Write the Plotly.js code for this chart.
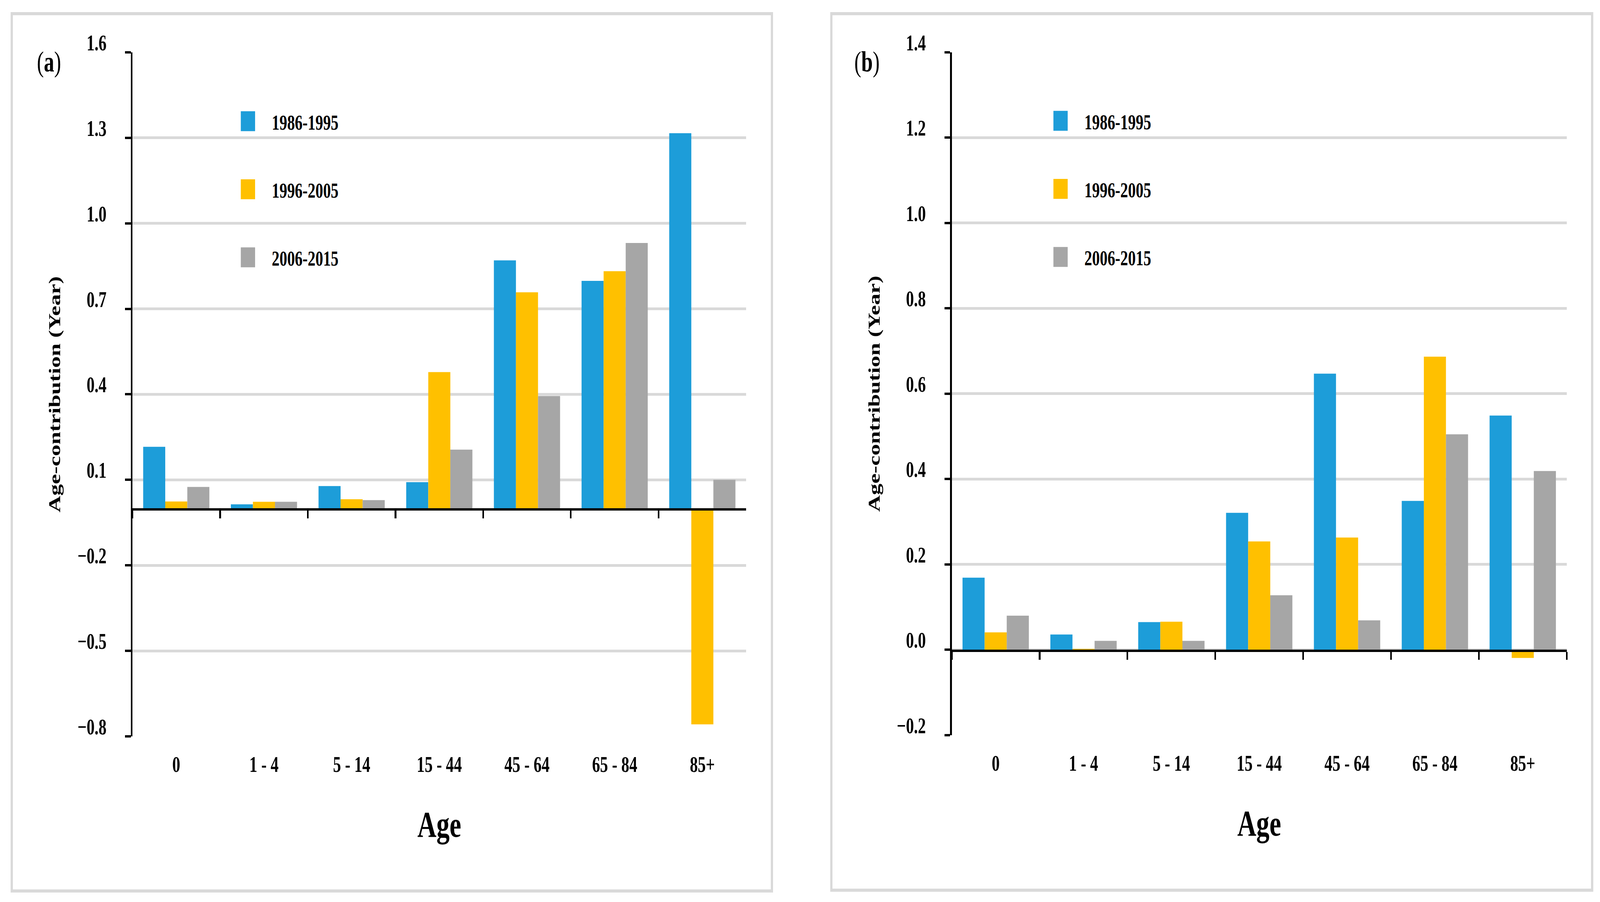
<!DOCTYPE html>
<html>
<head>
<meta charset="utf-8">
<script src="https://cdn.plot.ly/plotly-3.0.1.min.js"></script>
<style>
  html, body { margin: 0; padding: 0; background: #ffffff; overflow: hidden; }
  #wrap { overflow: hidden; position: relative; background: #ffffff; }
  .panel { position: absolute; top: 0; transform-origin: 0 0; }
</style>
</head>
<body>
<div id="wrap"><div id="plotA" class="panel"></div><div id="plotB" class="panel"></div></div>
<script>
// ---------------- data ----------------
const AGE_GROUPS = ['0', '1 - 4', '5 - 14', '15 - 44', '45 - 64', '65 - 84', '85+'];
const PERIODS = ['1986-1995', '1996-2005', '2006-2015'];

// panel (a)
const A_1986_1995 = [0.216, 0.014, 0.078, 0.092, 0.870, 0.798, 1.316];
const A_1996_2005 = [0.024, 0.023, 0.032, 0.478, 0.758, 0.832, -0.758];
const A_2006_2015 = [0.075, 0.023, 0.029, 0.206, 0.394, 0.931, 0.100];

// panel (b)
const B_1986_1995 = [0.169, 0.036, 0.065, 0.321, 0.647, 0.349, 0.549];
const B_1996_2005 = [0.041, 0.002, 0.066, 0.254, 0.263, 0.687, -0.019];
const B_2006_2015 = [0.080, 0.021, 0.021, 0.128, 0.069, 0.505, 0.419];

const Y_RANGE_A = [-0.8, 1.6], Y_STEP_A = 0.3;
const Y_RANGE_B = [-0.2, 1.4], Y_STEP_B = 0.2;

const Y_TITLE = 'Age-contribution (Year)';
const X_TITLE = 'Age';
const PANEL_LABELS = ['(<b>a</b>)', '(<b>b</b>)'];

// ---------------- styling / geometry ----------------
const COLORS = ['#1D9DD9', '#FFC000', '#A6A6A6'];
const FONT = '"Liberation Serif", "DejaVu Serif", serif';
const W = 5711, H = 2309;       // design size in target pixels
const K = 4.25;                 // plot units -> target pixels
const u = v => v / K;           // target pixels -> plot units
const SPLIT = 2862;             // design x where panel (b) starts
const CLEAR = 'rgba(0,0,0,0)';

// fill the actual window with the design
const vw = window.innerWidth || W, vh = window.innerHeight || H;
const SX = vw / W, SY = vh / H;
const wrap = document.getElementById('wrap');
wrap.style.width = vw + 'px';
wrap.style.height = vh + 'px';

const tickFont = {family: FONT, size: u(57), color: '#000', weight: 700};

function drawPanel(el, spec) {
  const off = spec.offset, PW = spec.width;
  const px = x => (x - off) / PW;
  const py = y => 1 - y / H;
  el.style.left = (off * SX) + 'px';
  el.style.width = (PW / K) + 'px';
  el.style.height = (H / K) + 'px';
  el.style.transform = 'scale(' + (K * SX) + ',' + (K * SY) + ')';

  const P = spec.box;
  const XD = [px(P.l), px(P.r)], YD = [py(P.b), py(P.t)];
  const lift = 25 / H;                       // y tick labels sit just above their gridlines
  const YL = [YD[0] + lift, YD[1] + lift];
  const rng = spec.range;
  const zero = YD[0] + (0 - rng[0]) / (rng[1] - rng[0]) * (YD[1] - YD[0]);

  const traces = spec.series.map((vals, i) => ({
    type: 'bar', x: AGE_GROUPS, y: vals, name: PERIODS[i], legendgroup: 'g' + i,
    xaxis: 'x', yaxis: 'y',
    marker: {color: COLORS[i], line: {width: 0}}, hoverinfo: 'skip'
  }));
  // invisible carriers for the helper axes (zero-line ticks, y tick labels)
  traces.push({type: 'scatter', mode: 'markers', x: AGE_GROUPS, y: spec.series[0],
    xaxis: 'x2', yaxis: 'y', marker: {opacity: 0}, showlegend: false, hoverinfo: 'skip'});
  traces.push({type: 'scatter', mode: 'markers', x: AGE_GROUPS, y: spec.series[0],
    xaxis: 'x', yaxis: 'y3', marker: {opacity: 0}, showlegend: false, hoverinfo: 'skip'});

  const layout = {
    width: PW / K, height: H / K,
    margin: {l: 0, r: 0, t: 0, b: 0, pad: 0},
    paper_bgcolor: '#ffffff', plot_bgcolor: CLEAR,
    font: {family: FONT, color: '#000'},
    barmode: 'group', bargap: 0.245, bargroupgap: 0,
    showlegend: true,
    // category labels under the plot
    xaxis: {
      domain: XD, anchor: 'y', type: 'category', range: [-0.5, AGE_GROUPS.length - 0.5],
      autorange: false, showline: false, showgrid: false, zeroline: false,
      ticks: 'outside', ticklen: u(18), tickcolor: CLEAR,
      tickfont: tickFont,
      title: {text: X_TITLE, font: {family: FONT, size: u(94), color: '#000', weight: 700}, standoff: u(90)}
    },
    // axis line with boundary ticks on the zero line
    xaxis2: {
      domain: XD, overlaying: 'x', anchor: 'free', position: zero, type: 'category',
      range: [-0.5, AGE_GROUPS.length - 0.5], autorange: false,
      showline: true, linecolor: '#000', linewidth: u(6),
      ticks: 'outside', tickson: 'boundaries', ticklen: u(20), tickwidth: u(6), tickcolor: '#000',
      showticklabels: false, showgrid: false, zeroline: false
    },
    // value axis: line, ticks, gridlines, title
    yaxis: {
      domain: YD, anchor: 'x', range: rng, autorange: false, tick0: rng[0], dtick: spec.step,
      showline: true, linecolor: '#000', linewidth: u(6),
      ticks: 'outside', ticklen: u(20), tickwidth: u(6), tickcolor: '#000',
      showgrid: true, gridcolor: '#D9D9D9', gridwidth: u(7), zeroline: false,
      showticklabels: false,
      title: {text: Y_TITLE, font: {family: FONT, size: u(59), color: '#000', weight: 700}, standoff: u(214)}
    },
    // value tick labels, raised slightly above their gridlines
    yaxis3: {
      domain: YL, anchor: 'free', position: px(P.l), side: 'left',
      range: rng, autorange: false, tick0: rng[0], dtick: spec.step, tickformat: '.1f',
      showline: false, showgrid: false, zeroline: false,
      ticks: 'outside', ticklen: u(81), tickcolor: CLEAR,
      tickfont: tickFont
    },
    legend: {
      x: px(spec.legendSym[0] - 20 * K - 4), xanchor: 'left',
      y: py(spec.legendSym[1] - 65), yanchor: 'top',
      orientation: 'v', bgcolor: CLEAR, borderwidth: 0,
      font: {family: FONT, size: u(55), color: '#000', weight: 700},
      traceorder: 'grouped', tracegroupgap: u(90)
    },
    annotations: [
      {text: spec.label, xref: 'paper', yref: 'paper', x: px(spec.labelPos[0]), y: py(spec.labelPos[1]),
       xanchor: 'center', yanchor: 'middle', showarrow: false,
       font: {family: FONT, size: u(74), color: '#000'}}
    ],
    shapes: [
      {type: 'rect', xref: 'paper', yref: 'paper',
       x0: px(spec.frame[0]), x1: px(spec.frame[2]), y0: py(spec.frame[3]), y1: py(spec.frame[1]),
       line: {color: '#D9D9D9', width: u(8)}, fillcolor: CLEAR, layer: 'below'}
    ]
  };
  return Plotly.newPlot(el, traces, layout, {staticPlot: true, displayModeBar: false, responsive: false});
}

drawPanel(document.getElementById('plotA'), {
  offset: 0, width: SPLIT,
  series: [A_1986_1995, A_1996_2005, A_2006_2015],
  range: Y_RANGE_A, step: Y_STEP_A,
  box: {l: 473, r: 2665, t: 134, b: 1886},
  frame: [42, 35, 2757, 2282],
  legendSym: [889.5, 312],
  label: PANEL_LABELS[0], labelPos: [176, 157]
});
drawPanel(document.getElementById('plotB'), {
  offset: SPLIT, width: W - SPLIT,
  series: [B_1986_1995, B_1996_2005, B_2006_2015],
  range: Y_RANGE_B, step: Y_STEP_B,
  box: {l: 3397, r: 5593, t: 134, b: 1883},
  frame: [2967, 35, 5684, 2280],
  legendSym: [3789.5, 311],
  label: PANEL_LABELS[1], labelPos: [3094, 158]
});
</script>
</body>
</html>
